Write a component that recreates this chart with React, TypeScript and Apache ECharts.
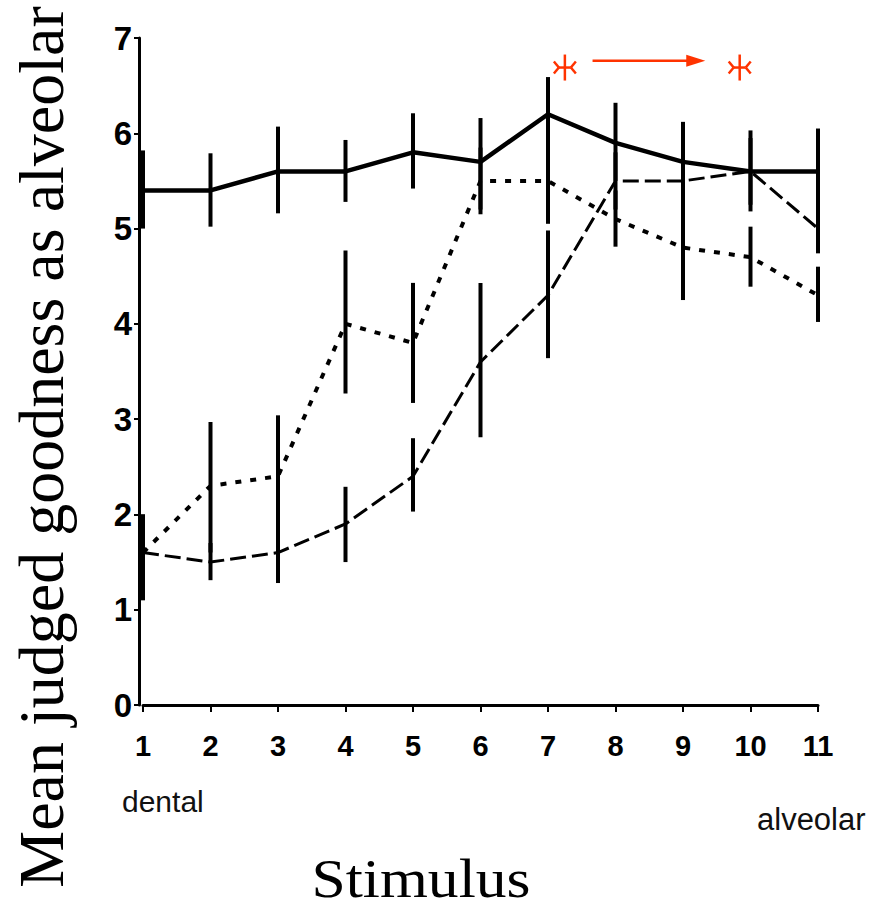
import React, { useEffect, useRef } from "react";
import * as echarts from "echarts";

const stimuli = [1, 2, 3, 4, 5, 6, 7, 8, 9, 10, 11];
const yTicks = [0, 1, 2, 3, 4, 5, 6, 7];

// solid line series
const solidMean = [5.4, 5.4, 5.6, 5.6, 5.8, 5.7, 6.2, 5.9, 5.7, 5.6, 5.6];
const solidLow = [5.0, 5.02, 5.16, 5.28, 5.42, 5.2, 5.8, 5.5, 5.3, 5.18, 5.15];
const solidHigh = [5.82, 5.79, 6.07, 5.93, 6.21, 6.16, 6.59, 6.32, 6.12, 6.03, 6.05];

// dotted line series
const dottedMean = [1.6, 2.3, 2.4, 4.0, 3.8, 5.5, 5.5, 5.1, 4.8, 4.7, 4.3];
const dottedLow = [1.1, 1.6, 1.75, 3.27, 3.17, 5.15, 5.05, 4.81, 4.25, 4.39, 4.02];
const dottedHigh = [2.0, 2.97, 3.04, 4.77, 4.43, 5.85, 5.95, 5.4, 5.35, 5.02, 4.6];

// dashed line series
const dashedMean = [1.6, 1.5, 1.6, 1.9, 2.4, 3.6, 4.3, 5.5, 5.5, 5.6, 5.0];
const dashedLow = [1.1, 1.31, 1.28, 1.5, 2.03, 2.81, 3.64, 5.2, 5.2, 5.25, 4.74];
const dashedHigh = [2.0, 1.7, 1.9, 2.29, 2.8, 4.43, 4.98, 5.8, 5.8, 5.95, 5.3];

// red annotation (data coordinates)
const asterisks = [
  [7.25, 6.69],
  [9.84, 6.69],
];
const arrow = [[7.66, 9.33, 6.76]];

const RED = "#ff3300";

function pts(mean: number[]) {
  return stimuli.map((s, i) => [s, mean[i]]);
}
function bars(low: number[], high: number[]) {
  return stimuli.map((s, i) => [s, low[i], high[i]]);
}

const errRender = (params: any, api: any) => {
  const x = api.value(0);
  const p1 = api.coord([x, api.value(1)]);
  const p2 = api.coord([x, api.value(2)]);
  return {
    type: "line",
    shape: { x1: p1[0], y1: p1[1], x2: p2[0], y2: p2[1] },
    style: { stroke: "#000", lineWidth: 4 },
  };
};

const starRender = (params: any, api: any) => {
  const c = api.coord([api.value(0), api.value(1)]);
  const [x, y] = c;
  const st = { stroke: RED, lineWidth: 2.5 };
  const L = (x1: number, y1: number, x2: number, y2: number) => ({
    type: "line",
    shape: { x1, y1, x2, y2 },
    style: st,
  });
  return {
    type: "group",
    children: [
      L(x, y - 13, x, y + 13),
      L(x - 6, y, x + 6, y),
      L(x - 6, y, x - 11, y - 6),
      L(x - 6, y, x - 11, y + 6),
      L(x + 6, y, x + 11, y - 6),
      L(x + 6, y, x + 11, y + 6),
    ],
  };
};

const arrowRender = (params: any, api: any) => {
  const a = api.coord([api.value(0), api.value(2)]);
  const b = api.coord([api.value(1), api.value(2)]);
  return {
    type: "group",
    children: [
      {
        type: "line",
        shape: { x1: a[0], y1: a[1], x2: b[0] - 15, y2: b[1] },
        style: { stroke: RED, lineWidth: 2.5 },
      },
      {
        type: "polygon",
        shape: {
          points: [
            [b[0] - 19, b[1] - 6],
            [b[0], b[1]],
            [b[0] - 19, b[1] + 6],
          ],
        },
        style: { fill: RED },
      },
    ],
  };
};

export default function App() {
  const ref = useRef<HTMLDivElement>(null);
  useEffect(() => {
    const chart = echarts.init(ref.current!, null, { renderer: "svg" });
    const option: any = {
      animation: false,
      backgroundColor: "#fff",
      grid: { left: 143, right: 54, top: 38, bottom: 208, containLabel: false },
      xAxis: {
        type: "value",
        min: 1,
        max: 11,
        interval: 1,
        offset: 8,
        splitLine: { show: false },
        axisLine: { show: true, lineStyle: { color: "#000", width: 3 } },
        axisTick: { show: true, length: 7, lineStyle: { color: "#000", width: 2 } },
        axisLabel: {
          color: "#000",
          fontFamily: "'Liberation Sans', Arial, sans-serif",
          fontWeight: "bold",
          fontSize: 29,
          margin: 18,
        },
      },
      yAxis: {
        type: "value",
        min: 0,
        max: 7,
        interval: 1,
        offset: 4,
        splitLine: { show: false },
        axisLine: { show: true, lineStyle: { color: "#000", width: 3 } },
        axisTick: { show: true, length: 5, lineStyle: { color: "#000", width: 2 } },
        axisLabel: {
          color: "#000",
          fontFamily: "'Liberation Sans', Arial, sans-serif",
          fontWeight: "bold",
          fontSize: 33,
          margin: 7,
          formatter: (v: number) => (yTicks.includes(v) ? String(v) : ""),
        },
      },
      graphic: [
        {
          type: "text",
          x: 41,
          y: 447,
          rotation: Math.PI / 2,
          style: {
            text: "Mean judged goodness as alveolar",
            font: "64px 'Liberation Serif', 'Times New Roman', serif",
            fill: "#000",
            textAlign: "center",
            textVerticalAlign: "middle",
          },
        },
        {
          type: "text",
          x: 421,
          y: 879,
          scaleX: 1.12,
          style: {
            text: "Stimulus",
            font: "55px 'Liberation Serif', 'Times New Roman', serif",
            fill: "#000",
            textAlign: "center",
            textVerticalAlign: "middle",
          },
        },
        {
          type: "text",
          x: 122,
          y: 801,
          style: {
            text: "dental",
            font: "30px 'Liberation Sans', Arial, sans-serif",
            fill: "#111",
            textAlign: "left",
            textVerticalAlign: "middle",
          },
        },
        {
          type: "text",
          x: 757,
          y: 819,
          style: {
            text: "alveolar",
            font: "31px 'Liberation Sans', Arial, sans-serif",
            fill: "#111",
            textAlign: "left",
            textVerticalAlign: "middle",
          },
        },
      ],
      series: [
        {
          type: "line",
          data: pts(dashedMean),
          symbol: "none",
          lineStyle: { color: "#000", width: 3, type: [16, 6] },
          z: 2,
        },
        {
          type: "line",
          data: pts(dottedMean),
          symbol: "none",
          lineStyle: { color: "#000", width: 4, type: [6, 9] },
          z: 2,
        },
        {
          type: "line",
          data: pts(solidMean),
          symbol: "none",
          lineStyle: { color: "#000", width: 4.5 },
          z: 3,
        },
        { type: "custom", data: bars(solidLow, solidHigh), renderItem: errRender, clip: false, z: 4 },
        { type: "custom", data: bars(dottedLow, dottedHigh), renderItem: errRender, clip: false, z: 4 },
        { type: "custom", data: bars(dashedLow, dashedHigh), renderItem: errRender, clip: false, z: 4 },
        { type: "custom", data: asterisks, renderItem: starRender, clip: false, z: 5 },
        { type: "custom", data: arrow, renderItem: arrowRender, clip: false, z: 5 },
      ],
    };
    chart.setOption(option);
    return () => chart.dispose();
  }, []);
  return (
    <div
      ref={ref}
      style={{ position: "fixed", left: 0, top: 0, width: 872, height: 913, background: "#fff" }}
    />
  );
}
